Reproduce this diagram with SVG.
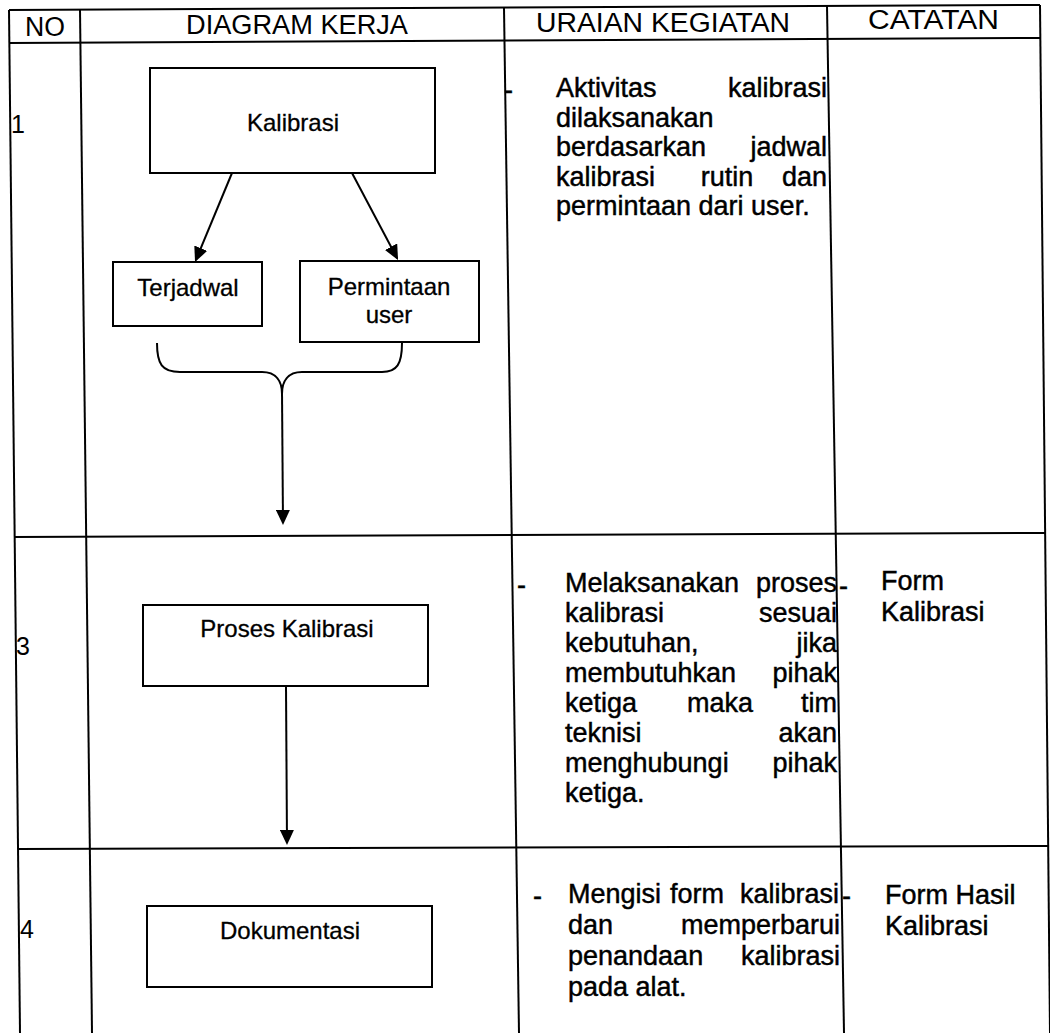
<svg xmlns="http://www.w3.org/2000/svg" width="1050" height="1033" viewBox="0 0 1050 1033">
  <defs>
    <marker id="arrow" markerUnits="userSpaceOnUse" markerWidth="15" markerHeight="14" viewBox="0 0 15 14" refX="13" refY="7" orient="auto">
      <path d="M0,0 L15,7 L0,14 Z" fill="#000"/>
    </marker>
    <style>
      .grid line { stroke: #000; stroke-width: 2; }
      .box { fill: #fff; stroke: #000; stroke-width: 2; }
      .conn { fill: none; stroke: #000; stroke-width: 2; }
      text { font-family: "Liberation Sans", Arial, sans-serif; fill: #000; }
      .hd { font-size: 27px; }
      .no { font-size: 25px; }
      .lbl { font-size: 24px; text-anchor: middle; stroke: #000; stroke-width: 0.3; }
      .body { font-size: 27px; stroke: #000; stroke-width: 0.45; }
      .end { text-anchor: end; }
      .mid { text-anchor: middle; }
    </style>
  </defs>

  <rect x="0" y="0" width="1050" height="1033" fill="#fff"/>

  <!-- table grid (scanned sheet sits slightly askew) -->
  <g id="table-grid" class="grid">
    <line x1="9" y1="10" x2="1040" y2="5"/>
    <line x1="9.2" y1="43" x2="1040" y2="38"/>
    <line x1="14" y1="537" x2="1046" y2="533"/>
    <line x1="18" y1="849" x2="1048" y2="846"/>
    <line x1="9" y1="10" x2="20" y2="1033"/>
    <line x1="80" y1="9.6" x2="92" y2="1033"/>
    <line x1="504" y1="8" x2="519" y2="1033"/>
    <line x1="827" y1="6" x2="844" y2="1033"/>
    <line x1="1040" y1="5" x2="1050" y2="1033"/>
  </g>

  <!-- column headings -->
  <g id="header" class="hd">
    <text x="25" y="36" textLength="40" lengthAdjust="spacingAndGlyphs">NO</text>
    <text x="186" y="34" textLength="222" lengthAdjust="spacingAndGlyphs">DIAGRAM KERJA</text>
    <text x="536" y="31.5" textLength="254" lengthAdjust="spacingAndGlyphs">URAIAN KEGIATAN</text>
    <text x="868" y="29" textLength="131" lengthAdjust="spacingAndGlyphs">CATATAN</text>
  </g>

  <!-- step numbers -->
  <g id="step-numbers" class="no">
    <text x="11" y="133">1</text>
    <text x="16" y="655">3</text>
    <text x="20" y="938">4</text>
  </g>

  <!-- connectors -->
  <g id="connectors" class="conn">
    <line x1="232" y1="173" x2="195.8" y2="260.2" marker-end="url(#arrow)"/>
    <line x1="352" y1="173" x2="397.1" y2="258.2" marker-end="url(#arrow)"/>
    <path d="M157,343 C157,364 162,372 180,372 L262,372 C276,372 282,381 282,394"/>
    <path d="M402,343 C402,364 397,372 382,372 L302,372 C288,372 282,381 282,394"/>
    <line x1="282" y1="392" x2="283" y2="523" marker-end="url(#arrow)"/>
    <line x1="286" y1="686" x2="287" y2="843" marker-end="url(#arrow)"/>
  </g>

  <!-- flow nodes -->
  <g id="node-kalibrasi">
    <rect class="box" x="150" y="68" width="285" height="105"/>
    <text class="lbl" x="293" y="131">Kalibrasi</text>
  </g>
  <g id="node-terjadwal">
    <rect class="box" x="113" y="262" width="149" height="64"/>
    <text class="lbl" x="188" y="296">Terjadwal</text>
  </g>
  <g id="node-permintaan">
    <rect class="box" x="300" y="261" width="179" height="81"/>
    <text class="lbl" x="389" y="295">Permintaan</text>
    <text class="lbl" x="389" y="323">user</text>
  </g>
  <g id="node-proses">
    <rect class="box" x="143" y="605" width="285" height="81"/>
    <text class="lbl" x="287" y="637">Proses Kalibrasi</text>
  </g>
  <g id="node-dokumentasi">
    <rect class="box" x="147" y="906" width="285" height="81"/>
    <text class="lbl" x="290" y="939">Dokumentasi</text>
  </g>

  <!-- activity descriptions (justified) -->
  <g id="uraian-1" class="body">
    <text x="504" y="99">-</text>
    <text x="556" y="97">Aktivitas</text>
    <text class="end" x="827" y="97">kalibrasi</text>
    <text x="556" y="126.5">dilaksanakan</text>
    <text x="556" y="156">berdasarkan</text>
    <text class="end" x="827" y="156">jadwal</text>
    <text x="556" y="185.5">kalibrasi</text>
    <text class="mid" x="727" y="185.5">rutin</text>
    <text class="end" x="827" y="185.5">dan</text>
    <text x="556" y="215">permintaan dari user.</text>
  </g>

  <g id="uraian-3" class="body">
    <text x="517" y="594">-</text>
    <text x="565" y="592">Melaksanakan</text>
    <text class="end" x="837" y="592">proses</text>
    <text x="565" y="622">kalibrasi</text>
    <text class="end" x="837" y="622">sesuai</text>
    <text x="565" y="652">kebutuhan,</text>
    <text class="end" x="837" y="652">jika</text>
    <text x="565" y="682">membutuhkan</text>
    <text class="end" x="837" y="682">pihak</text>
    <text x="565" y="712">ketiga</text>
    <text class="mid" x="720" y="712">maka</text>
    <text class="end" x="837" y="712">tim</text>
    <text x="565" y="742">teknisi</text>
    <text class="end" x="837" y="742">akan</text>
    <text x="565" y="772">menghubungi</text>
    <text class="end" x="837" y="772">pihak</text>
    <text x="565" y="802">ketiga.</text>
  </g>

  <g id="uraian-4" class="body">
    <text x="533" y="905">-</text>
    <text x="568" y="903">Mengisi</text>
    <text class="mid" x="697" y="903">form</text>
    <text class="end" x="839" y="903">kalibrasi</text>
    <text x="568" y="934">dan</text>
    <text class="end" x="840" y="934">memperbarui</text>
    <text x="568" y="965">penandaan</text>
    <text class="end" x="840" y="965">kalibrasi</text>
    <text x="568" y="996">pada alat.</text>
  </g>

  <!-- notes column -->
  <g id="catatan-3" class="body">
    <text x="839" y="595">-</text>
    <text x="881" y="590">Form</text>
    <text x="881" y="621">Kalibrasi</text>
  </g>
  <g id="catatan-4" class="body">
    <text x="842" y="905">-</text>
    <text x="885" y="904">Form Hasil</text>
    <text x="885" y="935">Kalibrasi</text>
  </g>
</svg>
